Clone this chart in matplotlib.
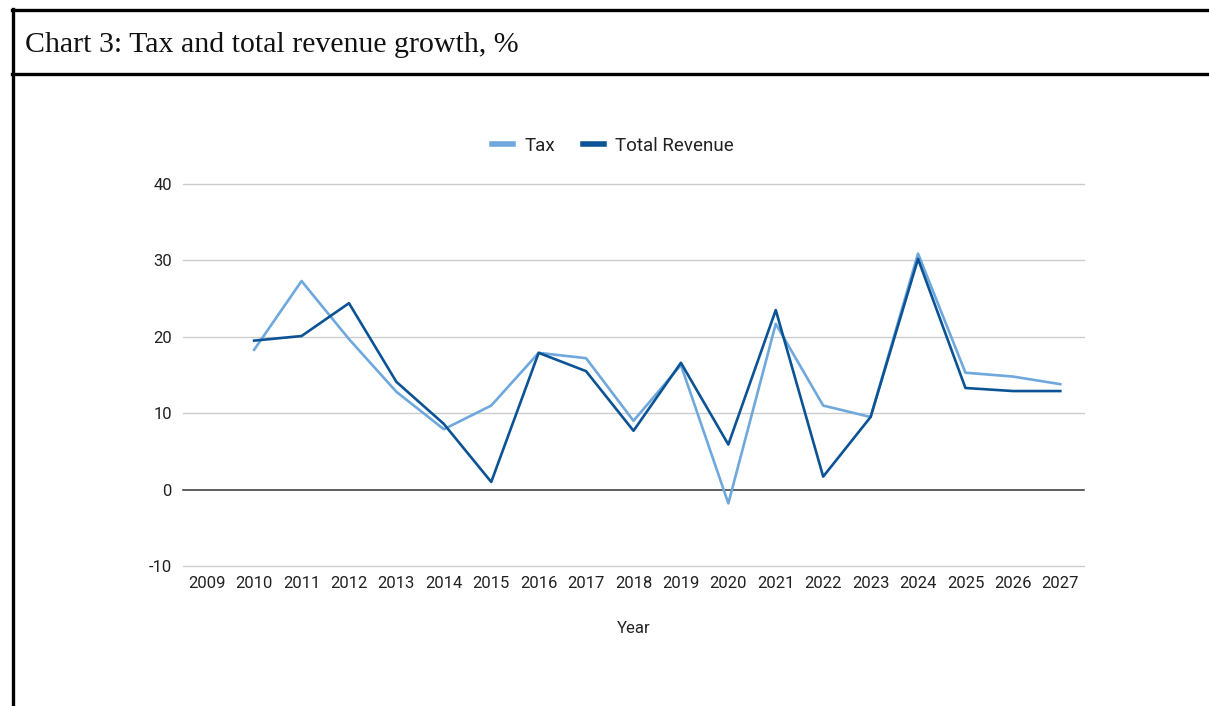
import numpy as np
import matplotlib.pyplot as plt
from matplotlib.lines import Line2D

years = list(range(2009, 2028))
tax_years = list(range(2010, 2028))
tax = [18.3, 27.3, 19.7, 12.8, 7.9, 11.0, 17.9, 17.2, 9.0, 16.3, -1.8,
       21.7, 11.0, 9.5, 30.9, 15.3, 14.8, 13.8]
total_revenue = [19.5, 20.1, 24.4, 14.1, 8.6, 1.0, 17.9, 15.5, 7.7, 16.6, 5.9,
                 23.5, 1.7, 9.5, 30.2, 13.3, 12.9, 12.9]
y_ticks = [-10, 0, 10, 20, 30, 40]

TAX_COLOR = "#6fa8dc"
REV_COLOR = "#0b5394"
W, H = 1209, 706

plt.rcParams["font.family"] = ["Roboto", "DejaVu Sans"]
plt.rcParams["axes.unicode_minus"] = False

fig = plt.figure(figsize=(W / 100, H / 100), dpi=100)
ax = fig.add_axes([183 / W, 1 - 566 / H, (1084 - 183) / W, (566 - 184) / H])

x = np.arange(len(years))
tx = [years.index(y) for y in tax_years]
ax.plot(tx, tax, color=TAX_COLOR, lw=1.9, label="Tax", zorder=3)
ax.plot(tx, total_revenue, color=REV_COLOR, lw=1.9, label="Total Revenue", zorder=4)

ax.set_xlim(-0.5, len(years) - 0.5)
ax.set_ylim(-10, 40)
ax.set_yticks(y_ticks)
ax.set_xticks(x)
ax.set_xticklabels([str(y) for y in years])
# gridlines drawn unclipped so the edge ones show in full
for t in y_ticks:
    if t == 0:
        ax.axhline(t, color="#333333", lw=1.1, zorder=2, clip_on=False)
    else:
        ax.axhline(t, color="#cccccc", lw=1, zorder=1, clip_on=False)
for s in ax.spines.values():
    s.set_visible(False)
ax.tick_params(length=0, labelsize=12, colors="#222222", pad=8)
ax.tick_params(axis="x", pad=7)
ax.set_xlabel("Year", fontsize=12, color="#222222", labelpad=22)

fig.legend(
    handles=[Line2D([], [], color=TAX_COLOR, lw=4), Line2D([], [], color=REV_COLOR, lw=4)],
    labels=["Tax", "Total Revenue"],
    loc="center", bbox_to_anchor=(613 / W, 1 - 146 / H),
    ncol=2, frameon=False, fontsize=13.5, handlelength=1.1, handletextpad=0.6,
    columnspacing=1.5, labelcolor="#222222",
)

# frame around the chart block
fig.add_artist(Line2D([12 / W, 1], [1 - 10 / H, 1 - 10 / H], color="black", lw=2.4))
fig.add_artist(Line2D([12 / W, 1], [1 - 74 / H, 1 - 74 / H], color="black", lw=2.4))
fig.add_artist(Line2D([13 / W, 13 / W], [1 - 9 / H, 0], color="black", lw=2.4))

fig.text(25 / W, 1 - 45 / H, "Chart 3: Tax and total revenue growth, %",
         family=["Liberation Serif", "DejaVu Serif"], fontsize=21.5, color="#111111",
         ha="left", va="center")

fig.savefig("out.png", dpi=100)
